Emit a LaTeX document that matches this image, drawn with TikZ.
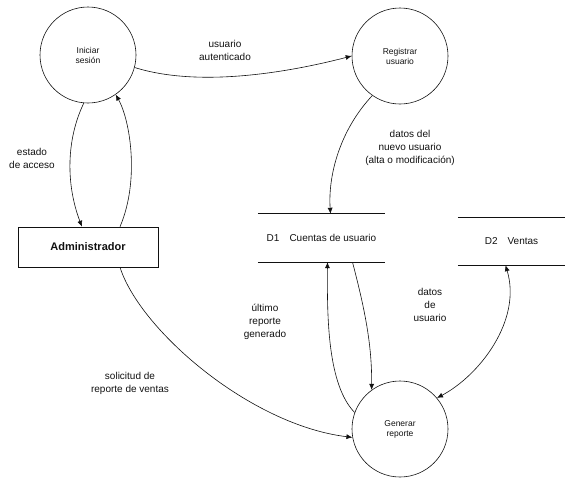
\documentclass[tikz,border=0pt]{standalone}
\usepackage{fontspec}
\setmainfont{Liberation Sans}
\setsansfont{Liberation Sans}
\usetikzlibrary{arrows.meta, calc}
\definecolor{ink}{HTML}{111111}
\tikzset{
  font=\sffamily\fontsize{8.5}{10}\selectfont,
  >={Latex[length=6pt, width=5pt]},
  %
  proc/.style={draw=ink, line width=0.6pt, circle, minimum size=96pt,
               inner sep=0pt, align=center, text=ink},
  ent/.style={draw=ink, line width=0.6pt, minimum width=140pt, minimum height=40pt,
              font=\sffamily\bfseries\fontsize{11}{13}\selectfont, text=ink},
  datastore/.style={inner sep=0pt, text=ink,
                    font=\sffamily\fontsize{10}{12}\selectfont},
  storeline/.style={draw=ink, line width=1.2pt},
  %
  flow/.style={draw=ink, line width=0.6pt, ->},
  lbl/.style={text=ink, align=center, inner sep=1pt,
              font=\sffamily\fontsize{10}{13}\selectfont},
}

\begin{document}
\begin{tikzpicture}[x=1pt, y=-1pt]
\useasboundingbox (0,0) rectangle (565,488);

% =========================================================================
% processes, entity and stores
\node[proc] (login) at (88,55) {Iniciar\\sesión};
\node[proc] (alta) at (400,56) {Registrar\\usuario};
\node[proc] (reporte) at (400,429) {Generar\\reporte};

\node[ent] (admin) at (88,247) {Administrador};

\node[datastore, minimum width=127pt, minimum height=48pt] (usuarios) at (321.5,238)
  {D1\quad Cuentas de usuario};
\draw[storeline] (usuarios.north west) -- (usuarios.north east)
                 (usuarios.south west) -- (usuarios.south east);
\node[datastore, minimum width=107pt, minimum height=47pt] (ventas) at (511.5,241.5)
  {D2\quad Ventas};
\draw[storeline] (ventas.north west) -- (ventas.north east)
                 (ventas.south west) -- (ventas.south east);

% =========================================================================
% data flows
\draw[flow] (login.-15) .. controls (200,88) and (290,72) .. (alta.west);
\node[lbl] (lcred) at (225,50) {usuario\\autenticado};

\draw[flow] (login.265) .. controls (66,140) and (66,185) .. ($(admin.north)+(-6,0)$);
\node[lbl] (lacc) at (32,158) {estado\\de acceso};

\draw[flow] ($(admin.north)+(32,0)$) .. controls (140,180) and (130,120) .. (login.-55);

\draw[flow] ($(admin.south)+(32,0)$) .. controls (140,330) and (250,425) .. (reporte.190);
\node[lbl] (lsol) at (130,383) {solicitud de\\reporte de ventas};

\draw[flow] (alta.235) .. controls (340,130) and (328,175) .. ($(usuarios.north)+(9,0)$);
\node[lbl] (lnuevo) at (410,148) {datos del\\nuevo usuario\\(alta o modificación)};

\draw[flow] ($(usuarios.south)+(31,0)$) .. controls (365,310) and (372,345) .. (reporte.126);
\node[lbl] (ldatos) at (430,305) {datos\\de\\usuario};

\draw[flow] (reporte.160) .. controls (328,385) and (327,320) .. ($(usuarios.south)+(6,0)$);
\node[lbl] (lfecha) at (265,322) {último\\reporte\\generado};

\draw[flow, <->] ($(ventas.south)+(-6,0)$) .. controls (522,320) and (480,375) .. (reporte.40);

\end{tikzpicture}
\end{document}
